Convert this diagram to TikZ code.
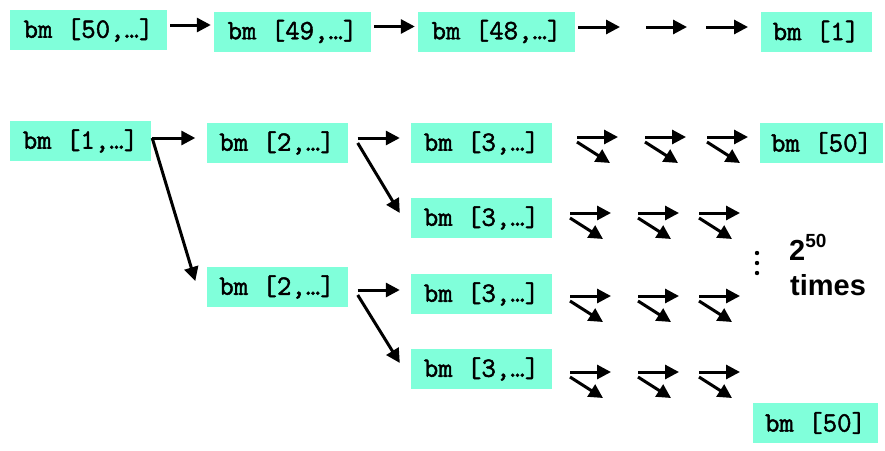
\documentclass[tikz,border=0pt]{standalone}
\usepackage{fontspec}
\setsansfont{Liberation Sans}
\newfontfamily\bmfont{Latin Modern Mono}[FakeBold=1.6]
\usetikzlibrary{arrows.meta}
\definecolor{bmcol}{RGB}{128,255,218}

\begin{document}
\begin{tikzpicture}[x=1pt, y=-1pt, >={Triangle[length=14pt, width=14pt]},
  bm/.style={fill=bmcol, font=\bmfont\fontsize{28}{28}\selectfont, minimum height=40pt, inner sep=0pt},
  go/.style={->, line width=3pt},
  big/.style={font=\sffamily\bfseries\fontsize{29}{29}\selectfont, anchor=base west, inner sep=0pt}]
  \useasboundingbox (0,0) rectangle (885,450);

  % top row
  \node[bm, minimum width=157pt] (t50) at (88.5,30) {bm [50,…]};
  \node[bm, minimum width=157pt] (t49) at (292.5,31.5) {bm [49,…]};
  \node[bm, minimum width=157pt] (t48) at (496.5,31.5) {bm [48,…]};
  \node[bm, minimum width=111pt] (t1) at (816,31.5) {bm [1]};

  \draw[go, shorten <= 3pt, shorten >= 3pt] ([yshift=5pt]t50.east) -- ([yshift=5pt]t50.east -| t49.west);
  \draw[go, shorten <= 3pt, shorten >= 3pt] ([yshift=5pt]t49.east) -- ([yshift=5pt]t49.east -| t48.west);
  \coordinate (g1) at (620,27);
  \draw[go, shorten <= 3pt] ([yshift=4.5pt]t48.east) -- (g1);
  \foreach \a/\b in {646/687, 706/748} {
    \coordinate (ga) at (\a,27);
    \coordinate (gb) at (\b,27);
    \draw[go] (ga) -- (gb);
  }

  % tree
  \node[bm, minimum width=141pt] (r1) at (80.5,141) {bm [1,…]};
  \node[bm, minimum width=141pt] (r2a) at (277,143) {bm [2,…]};
  \node[bm, minimum width=141pt] (r2b) at (277,287) {bm [2,…]};
  \foreach \n/\y in {a/143, b/218, c/294, d/369}
    \node[bm, minimum width=141pt] (r3\n) at (481.5,\y) {bm [3,…]};
  \node[bm, minimum width=123pt] (e50a) at (821.5,143) {bm [50]};
  \node[bm, minimum width=125pt] (e50b) at (815.5,423) {bm [50]};

  \draw[go] ([xshift=1pt,yshift=3pt]r1.east) -- ([xshift=-11pt,yshift=5pt]r2a.west);
  \draw[go] ([xshift=1pt,yshift=3pt]r1.east) -- ([xshift=-11pt,yshift=6pt]r2b.west);
  \draw[go] ([xshift=10pt,yshift=5pt]r2a.east) -- ([xshift=-11pt,yshift=5pt]r3a.west);
  \draw[go] ([xshift=10pt]r2a.east) -- ([xshift=-11pt,yshift=5pt]r3b.west);
  \draw[go] ([xshift=10pt,yshift=-3pt]r2b.east) -- ([xshift=-11pt,yshift=4pt]r3c.west);
  \draw[go] ([xshift=10pt,yshift=-8pt]r2b.east) -- ([xshift=-11pt,yshift=6pt]r3d.west);

  % forks
  \foreach \x in {577,645,707} {
    \draw[go] (\x,137) -- +(41,0);
    \draw[go] (\x,142) -- +(33,21);
  }
  \foreach \y in {213,296,372}
    \foreach \x in {570,638,699} {
      \draw[go] (\x,\y) -- +(41,0);
      \draw[go] (\x,\y+5) -- +(33,21);
    }

  \foreach \y in {253,263,273}
    \fill (757,\y) circle (2.2pt);
  \node[big] (pw) at (789,260) {2\raisebox{13pt}{\fontsize{19}{19}\selectfont 50}};
  \node[big] (tm) at (790,295) {times};
\end{tikzpicture}
\end{document}
